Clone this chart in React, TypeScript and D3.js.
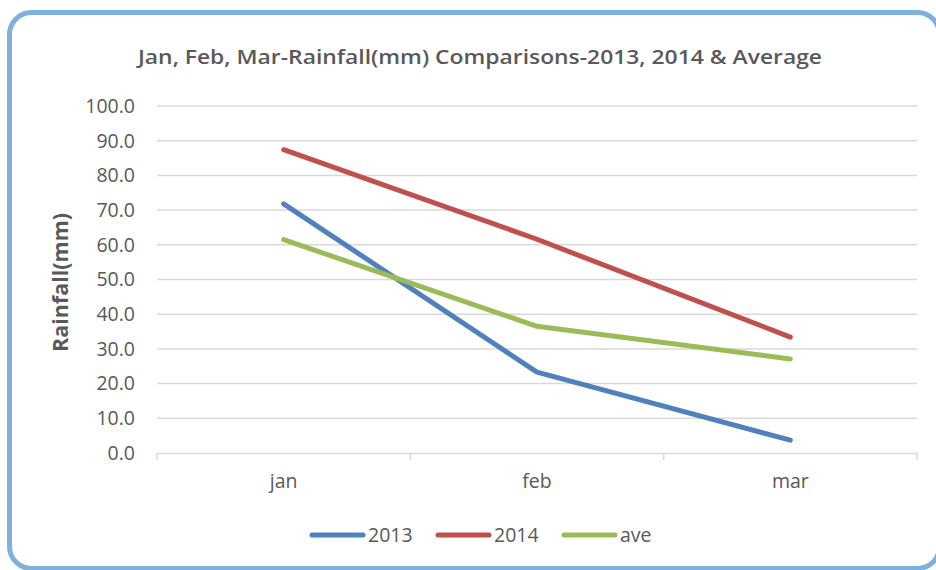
import * as d3 from "d3";
import { useEffect, useRef } from "react";

const months = ["jan", "feb", "mar"];
const series = ["2013", "2014", "ave"];
const rain2013 = [71.8, 23.3, 3.7];
const rain2014 = [87.4, 61.6, 33.4];
const rainAve = [61.5, 36.5, 27.1];
const yTicks = [0, 10, 20, 30, 40, 50, 60, 70, 80, 90, 100];
const colors = ["#4F81BD", "#C0504D", "#9BBB59"];

const W = 936;
const H = 570;
const FONT = "'Open Sans', 'DejaVu Sans', sans-serif";

const App = () => {
	const ref = useRef<SVGSVGElement>(null);

	useEffect(() => {
		const svg = d3.select(ref.current);
		svg.selectAll("*").remove();

		const margin = { top: 106, left: 157, right: 19, bottom: 117 };
		const innerW = W - margin.left - margin.right;
		const innerH = H - margin.top - margin.bottom;

		// frame
		svg.append("rect")
			.attr("x", 9.5).attr("y", 12.5)
			.attr("width", 930).attr("height", 556)
			.attr("rx", 22).attr("ry", 22)
			.attr("fill", "white")
			.attr("stroke", "#7EB0DE")
			.attr("stroke-width", 5);

		svg.append("text")
			.attr("x", 480).attr("y", 64)
			.attr("text-anchor", "middle")
			.attr("font-family", FONT)
			.attr("font-weight", 600)
			.attr("font-size", 20)
			.attr("fill", "#595959")
			.attr("textLength", 684)
			.attr("lengthAdjust", "spacingAndGlyphs")
			.text("Jan, Feb, Mar-Rainfall(mm) Comparisons-2013, 2014 & Average");

		const x = d3.scaleBand().domain(months).range([0, innerW]);
		const y = d3.scaleLinear().domain([0, 100]).range([innerH, 0]);

		const g = svg.append("g").attr("transform", `translate(${margin.left},${margin.top})`);

		g.selectAll(".grid")
			.data(yTicks.slice(1))
			.enter()
			.append("line")
			.attr("x1", 0).attr("x2", innerW)
			.attr("y1", d => y(d)).attr("y2", d => y(d))
			.attr("stroke", "#D9D9D9")
			.attr("stroke-width", 1.5);

		// y labels
		g.selectAll(".ylab")
			.data(yTicks)
			.enter()
			.append("text")
			.attr("x", -22)
			.attr("y", d => y(d))
			.attr("dy", "0.35em")
			.attr("text-anchor", "end")
			.attr("font-family", FONT)
			.attr("font-size", 19.5)
			.attr("fill", "#595959")
			.text(d => d.toFixed(1));

		// x axis
		const xAxis = d3.axisBottom(x).tickSize(0).tickPadding(21);
		const ax = g.append("g").attr("transform", `translate(0,${innerH})`).call(xAxis);
		ax.select(".domain").attr("stroke", "#D9D9D9").attr("stroke-width", 1.5);
		ax.selectAll("text")
			.attr("font-family", FONT)
			.attr("font-size", 19.5)
			.attr("fill", "#595959");
		const bounds = [0, ...months.map(m => (x(m) ?? 0) + x.bandwidth())];
		g.selectAll(".xtick")
			.data(bounds)
			.enter()
			.append("line")
			.attr("x1", d => d).attr("x2", d => d)
			.attr("y1", innerH).attr("y2", innerH + 7)
			.attr("stroke", "#D9D9D9")
			.attr("stroke-width", 1.5);

		svg.append("text")
			.attr("transform", `translate(68,${margin.top + innerH / 2 + 3}) rotate(-90)`)
			.attr("text-anchor", "middle")
			.attr("font-family", FONT)
			.attr("font-weight", 700)
			.attr("font-size", 21.5)
			.attr("fill", "#595959")
			.text("Rainfall(mm)");

		const line = d3.line<number>()
			.x((_, i) => (x(months[i]) ?? 0) + x.bandwidth() / 2)
			.y(d => y(d));

		[rain2013, rain2014, rainAve].forEach((vals, i) => {
			g.append("path")
				.datum(vals)
				.attr("d", line)
				.attr("fill", "none")
				.attr("stroke", colors[i])
				.attr("stroke-width", 5)
				.attr("stroke-linecap", "round")
				.attr("stroke-linejoin", "round");
		});

		// legend
		const legendX = [312, 438, 564];
		series.forEach((s, i) => {
			svg.append("line")
				.attr("x1", legendX[i]).attr("x2", legendX[i] + 51)
				.attr("y1", 535).attr("y2", 535)
				.attr("stroke", colors[i])
				.attr("stroke-width", 5)
				.attr("stroke-linecap", "round");
			svg.append("text")
				.attr("x", legendX[i] + 56)
				.attr("y", 535)
				.attr("dy", "0.35em")
				.attr("font-family", FONT)
				.attr("font-size", 19.5)
				.attr("fill", "#595959")
				.text(s);
		});
	}, []);

	return (
		<svg ref={ref} width={W} height={H} style={{ position: "absolute", left: 0, top: 0 }}></svg>
	);
};

export default App;
